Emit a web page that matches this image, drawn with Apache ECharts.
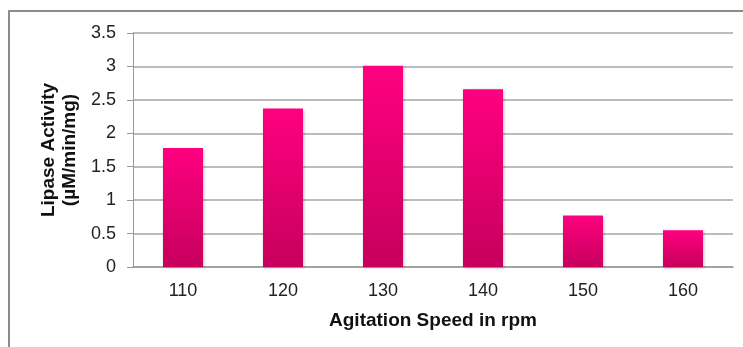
<!DOCTYPE html>
<html>
<head>
<meta charset="utf-8">
<script src="https://cdn.jsdelivr.net/npm/echarts@6/dist/echarts.min.js"></script>
<style>
html,body{margin:0;padding:0;background:#fff;}
#chart{width:743px;height:347px;}
</style>
</head>
<body>
<div id="chart"></div>
<script>
const categories = ['110', '120', '130', '140', '150', '160'];
const lipaseActivity = [1.78, 2.37, 3.01, 2.66, 0.77, 0.55];
const yTicks = [0, 0.5, 1, 1.5, 2, 2.5, 3, 3.5];

const chart = echarts.init(document.getElementById('chart'));
chart.setOption({
  animation: false,
  backgroundColor: '#ffffff',
  textStyle: { fontFamily: 'Liberation Sans, Arial, sans-serif' },
  graphic: [{
    type: 'rect',
    shape: { x: 9, y: 11, width: 760, height: 360 },
    style: { fill: 'none', stroke: '#8c8c8c', lineWidth: 2 },
    silent: true
  }],
  grid: { left: 133, right: 10, top: 33, bottom: 80 },
  xAxis: {
    type: 'category',
    data: categories,
    name: 'Agitation Speed in rpm',
    nameLocation: 'middle',
    nameGap: 44,
    nameTextStyle: { fontSize: 19, fontWeight: 'bold', color: '#111' },
    axisLine: { lineStyle: { color: '#999', width: 1.5 } },
    axisTick: { show: false },
    axisLabel: { fontSize: 18, color: '#222', margin: 15 }
  },
  yAxis: {
    type: 'value',
    min: 0,
    max: 3.5,
    interval: 0.5,
    name: 'Lipase Activity\n(µM/min/mg)',
    nameLocation: 'middle',
    nameRotate: 90,
    nameGap: 52,
    nameTextStyle: { fontSize: 19, fontWeight: 'bold', color: '#111', lineHeight: 21 },
    axisLine: { show: true, lineStyle: { color: '#999', width: 1 } },
    axisTick: { show: true, length: 6, lineStyle: { color: '#999' } },
    axisLabel: {
      fontSize: 18, color: '#222', margin: 17,
      formatter: v => (yTicks.includes(v) ? String(v) : '')
    },
    splitLine: { lineStyle: { color: '#a6a6a6', width: 1.5 } }
  },
  series: [{
    type: 'bar',
    data: lipaseActivity,
    barWidth: '40%',
    itemStyle: {
      color: new echarts.graphic.LinearGradient(0, 0, 0, 1, [
        { offset: 0, color: '#ff0080' },
        { offset: 1, color: '#c6005c' }
      ]),
      shadowColor: 'rgba(0,0,0,0.25)',
      shadowBlur: 3,
      shadowOffsetX: 1,
      shadowOffsetY: 1
    }
  }]
});
</script>
</body>
</html>
